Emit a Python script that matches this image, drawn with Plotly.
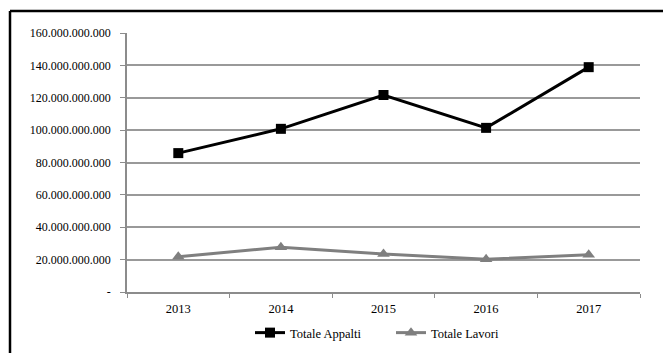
import plotly.graph_objects as go

years = ["2013", "2014", "2015", "2016", "2017"]
totale_appalti = [85.8e9, 100.8e9, 121.7e9, 101.4e9, 138.9e9]
totale_lavori = [21.8e9, 27.6e9, 23.5e9, 20.2e9, 23.0e9]
y_ticks = [0, 20e9, 40e9, 60e9, 80e9, 100e9, 120e9, 140e9, 160e9]
y_tick_labels = ["-", "20.000.000.000", "40.000.000.000", "60.000.000.000",
                 "80.000.000.000", "100.000.000.000", "120.000.000.000",
                 "140.000.000.000", "160.000.000.000"]

W, H = 663, 353
ML, MR, MT, MB = 127, 23, 33, 61
FONT = "Liberation Serif"

fig = go.Figure()
fig.add_trace(go.Scatter(
    x=years, y=totale_appalti, name="Totale Appalti", mode="lines+markers",
    line=dict(color="#000000", width=3),
    marker=dict(symbol="square", size=10, color="#000000"),
))
fig.add_trace(go.Scatter(
    x=years, y=totale_lavori, name="Totale Lavori", mode="lines+markers",
    line=dict(color="#7f7f7f", width=3),
    marker=dict(symbol="triangle-up", size=11, color="#7f7f7f"),
))

pw = W - ML - MR
ph = H - MT - MB
x_left = (10 - ML) / pw
y_top = (H - MB - 11) / ph
fig.add_shape(type="line", xref="paper", yref="paper",
              x0=x_left, x1=x_left, y0=y_top, y1=-(MB + 5) / ph,
              line=dict(color="#000000", width=2.5))
fig.add_shape(type="line", xref="paper", yref="paper",
              x0=x_left, x1=(W - ML + 5) / pw, y0=y_top, y1=y_top,
              line=dict(color="#000000", width=2.5))

fig.update_layout(
    width=W, height=H,
    margin=dict(l=ML, r=MR, t=MT, b=MB, autoexpand=False),
    paper_bgcolor="white", plot_bgcolor="white",
    font=dict(family=FONT, size=12, color="#000000"),
    showlegend=True,
    legend=dict(orientation="h", xref="container", x=250 / W, xanchor="left",
                yref="container", y=1 - 333 / H, yanchor="middle",
                font=dict(family=FONT, size=12.5, color="#000000"),
                itemwidth=30, entrywidth=96, entrywidthmode="pixels",
                traceorder="normal"),
    xaxis=dict(
        type="category", showgrid=False, showline=True, linecolor="#8c8c8c",
        linewidth=1.5, ticks="outside", tickson="boundaries", ticklen=4,
        tickcolor="#8c8c8c", tickfont=dict(family=FONT, size=12.5, color="#000000"),
        ticklabelstandoff=4, range=[-0.5, 4.5],
    ),
    yaxis=dict(
        range=[0, 160e9], tickvals=y_ticks, ticktext=y_tick_labels,
        showgrid=True, gridcolor="#999999", gridwidth=1.5,
        showline=True, linecolor="#8c8c8c", linewidth=1.5,
        ticks="outside", ticklen=5, tickcolor="#8c8c8c",
        tickfont=dict(family=FONT, size=12, color="#000000"), zeroline=False,
        ticklabelstandoff=7,
    ),
)

fig.write_html("out.html")
